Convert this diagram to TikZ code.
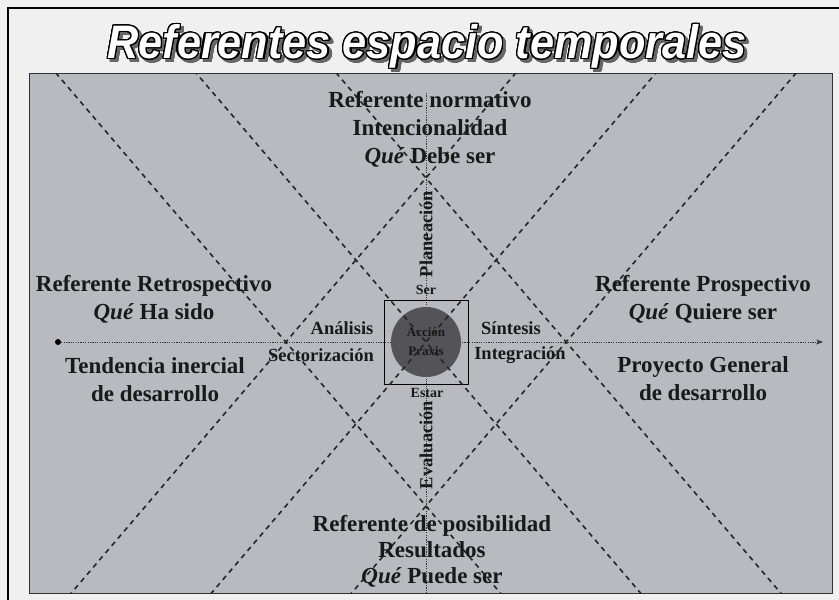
\documentclass[tikz,border=0pt]{standalone}
\usepackage{fontspec}
\setmainfont{Liberation Serif}
\setsansfont{Liberation Sans}
\usepackage{contour}
\contourlength{1.4pt}
\contournumber{24}
\usetikzlibrary{arrows.meta,calc}
\definecolor{panelgray}{RGB}{184,186,192}
\definecolor{framebg}{RGB}{240,240,240}
\definecolor{circgray}{RGB}{84,84,88}
\begin{document}
\begin{tikzpicture}[x=1pt,y=-1pt,
  lbl/.style={font=\bfseries\fontsize{23}{28}\selectfont, align=center, inner sep=0pt, text=black!90},
  sub/.style={font=\bfseries\fontsize{18.5}{22}\selectfont, inner sep=0pt, text=black!90},
  tiny/.style={font=\bfseries\fontsize{14}{16}\selectfont, inner sep=0pt, text=black!90},
  dashln/.style={line width=1.6pt, dash pattern=on 5pt off 4.5pt, black!85},
  axisln/.style={line width=0.8pt, dash pattern=on 1.2pt off 1.2pt, black!80},
  titlefont/.style={font=\sffamily\bfseries\itshape\fontsize{47}{50}\selectfont, xscale=0.92, inner sep=0pt}]
\useasboundingbox (0,0) rectangle (839,600);
\fill[framebg] (0,0) rectangle (839,600);
\draw[line width=1.4pt] (8,620) -- (8,8) -- (860,8);
% title
\node[titlefont, text=black!60] (shadow) at (430,50) {\contour{black!60}{Referentes espacio temporales}};
\node[titlefont, text=white] (title) at (427,47) {\contour{black}{Referentes espacio temporales}};
% panel
\coordinate (pTL) at (29,73);
\coordinate (pBR) at (832,593);
\fill[panelgray] (pTL) rectangle (pBR);
\draw[line width=1pt, black!80] (pTL) rectangle (pBR);
% key points
\coordinate (C) at (426,342);
\coordinate (T) at (426,178);
\coordinate (B) at (426,506);
\coordinate (L) at (286,342);
\coordinate (R) at (566,342);
% axes
\coordinate (vtop) at (426,93);
\coordinate (vbot) at (426,593);
\draw[axisln] (vtop) -- (vbot);
\node[circle, fill=black, inner sep=0pt, minimum size=6pt] (dot) at (58,342) {};
\coordinate (aend) at (823,342);
\draw[axisln, -{Stealth[length=7pt,width=5pt]}] (dot) -- (aend);
% centre square and circle
\node[draw, line width=0.9pt, minimum size=84pt, inner sep=0pt] (box) at (C) {};
\node[circle, fill=circgray, minimum size=70pt, inner sep=0pt] (circ) at (C) {};
% dashed lattice
\begin{scope}
\clip (pTL) rectangle (pBR);
\draw[dashln] ($(C)+(-300,-351)$) -- ($(C)+(300,351)$);
\draw[dashln] ($(C)+(300,-351)$) -- ($(C)+(-300,351)$);
\draw[dashln] ($(T)+(-300,-351)$) -- ($(T)+(500,585)$);
\draw[dashln] ($(T)+(300,-351)$) -- ($(T)+(-500,585)$);
\draw[dashln] ($(B)+(-500,-585)$) -- ($(B)+(300,351)$);
\draw[dashln] ($(B)+(500,-585)$) -- ($(B)+(-300,351)$);
\end{scope}
% texts
\node[lbl] (normativo) at (430,129) {Referente normativo\\Intencionalidad\\\textit{Qué} Debe ser};
\node[lbl] (retro) at (154,299) {Referente Retrospectivo\\\textit{Qué} Ha sido};
\node[lbl] (tendencia) at (155,380) {Tendencia inercial\\de desarrollo};
\node[lbl] (prosp) at (703,299) {Referente Prospectivo\\\textit{Qué} Quiere ser};
\node[lbl] (proyecto) at (703,379) {Proyecto General\\de desarrollo};
\node[lbl, font=\bfseries\fontsize{23}{26}\selectfont] (posib) at (432,551) {Referente de posibilidad\\Resultados\\\textit{Qué} Puede ser};
\node[sub] (analisis) at (342,328) {Análisis};
\node[sub] (sector) at (321,355) {Sectorización};
\node[sub] (sintesis) at (511,328) {Síntesis};
\node[sub] (integr) at (520,355) {Integración};
\node[tiny] (ser) at (426,290) {Ser};
\node[tiny] (estar) at (427,393) {Estar};
\node[sub, rotate=90] (plan) at (426,234) {Planeación};
\node[sub, rotate=90] (eval) at (426,445) {Evaluación};
\node[tiny, align=center, font=\bfseries\fontsize{13}{19}\selectfont, text=black!90] (praxis) at (C) {Acción\\Praxis};
\end{tikzpicture}
\end{document}
